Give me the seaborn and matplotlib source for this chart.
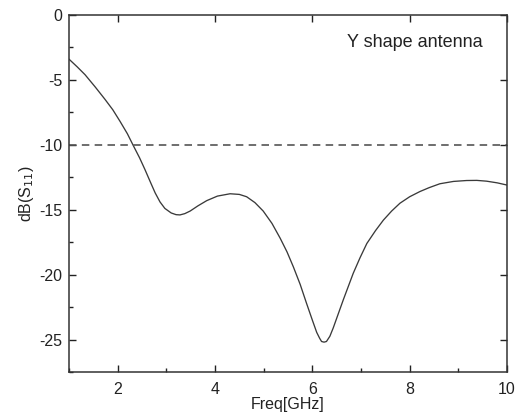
import matplotlib
matplotlib.use("Agg")
import matplotlib.pyplot as plt
from matplotlib.ticker import MultipleLocator
import numpy as np
import pandas as pd
import seaborn as sns

# Measured return loss of the Y shape antenna
freq_ghz = [1.00, 1.17, 1.33, 1.54, 1.74, 1.90, 2.05, 2.20, 2.32, 2.45,
            2.56, 2.67, 2.77, 2.87, 2.97, 3.10, 3.20, 3.28, 3.38, 3.49,
            3.65, 3.83, 4.05, 4.31, 4.50, 4.65, 4.82, 4.99, 5.17, 5.34,
            5.48, 5.61, 5.75, 5.88, 6.00, 6.09, 6.15, 6.19, 6.24, 6.29,
            6.36, 6.43, 6.53, 6.64, 6.74, 6.84, 6.98, 7.12, 7.30, 7.46,
            7.63, 7.80, 8.00, 8.21, 8.40, 8.62, 8.90, 9.17, 9.38, 9.58,
            9.80, 10.00]
s11_db = [-3.40, -4.00, -4.60, -5.55, -6.50, -7.30, -8.20, -9.15, -10.05, -11.00,
          -11.90, -12.85, -13.70, -14.40, -14.90, -15.25, -15.38, -15.40, -15.30, -15.10,
          -14.70, -14.30, -13.95, -13.77, -13.82, -14.00, -14.45, -15.10, -16.05, -17.20,
          -18.25, -19.40, -20.75, -22.20, -23.50, -24.45, -24.90, -25.15, -25.20, -25.15,
          -24.75, -24.10, -23.05, -21.90, -20.90, -19.90, -18.70, -17.60, -16.60, -15.80,
          -15.10, -14.50, -14.00, -13.60, -13.30, -13.00, -12.82, -12.75, -12.74, -12.80,
          -12.93, -13.10]
threshold_db = -10

df = pd.DataFrame({"Freq": freq_ghz, "S11": s11_db})

sns.set_theme(style="ticks")
plt.rcParams["font.family"] = ["Liberation Sans", "DejaVu Sans"]
plt.rcParams["axes.unicode_minus"] = False

fig = plt.figure(figsize=(5.17, 4.16), dpi=100)
ax = fig.add_axes([69 / 517, 1 - 372 / 416, 438 / 517, 357 / 416])

sns.lineplot(data=df, x="Freq", y="S11", ax=ax, color="#3a3a3a", lw=0.95,
             sort=False)
ax.axhline(threshold_db, color="#555555", lw=1.2, ls=(0, (4.5, 3.2)))

ax.set_xlim(1, 10)
ax.set_ylim(-27.5, 0)
ax.xaxis.set_major_locator(MultipleLocator(2))
ax.xaxis.set_minor_locator(MultipleLocator(1))
ax.yaxis.set_major_locator(MultipleLocator(5))
ax.yaxis.set_minor_locator(MultipleLocator(2.5))

ax.tick_params(which="both", direction="in", colors="#222222",
               labelsize=11.5, labelcolor="#222222")
ax.tick_params(which="major", length=5, width=1, top=True, right=True)
ax.tick_params(which="minor", length=3, width=1, top=False, right=False,
               bottom=True, left=True)
ax.tick_params(axis="x", pad=7)
ax.tick_params(axis="y", pad=5)

for sp in ax.spines.values():
    sp.set_visible(True)
    sp.set_color("#333333")
    sp.set_linewidth(1.1)

ax.set_xlabel("Freq[GHz]", fontsize=11.5, color="#222222", labelpad=0)
ax.set_ylabel("dB(S$_{11}$)", fontsize=11.5, color="#222222", labelpad=2)

ax.text(0.945, 0.922, "Y shape antenna", transform=ax.transAxes,
        ha="right", va="center", fontsize=13, color="#222222")

fig.savefig("out.png", dpi=100)
